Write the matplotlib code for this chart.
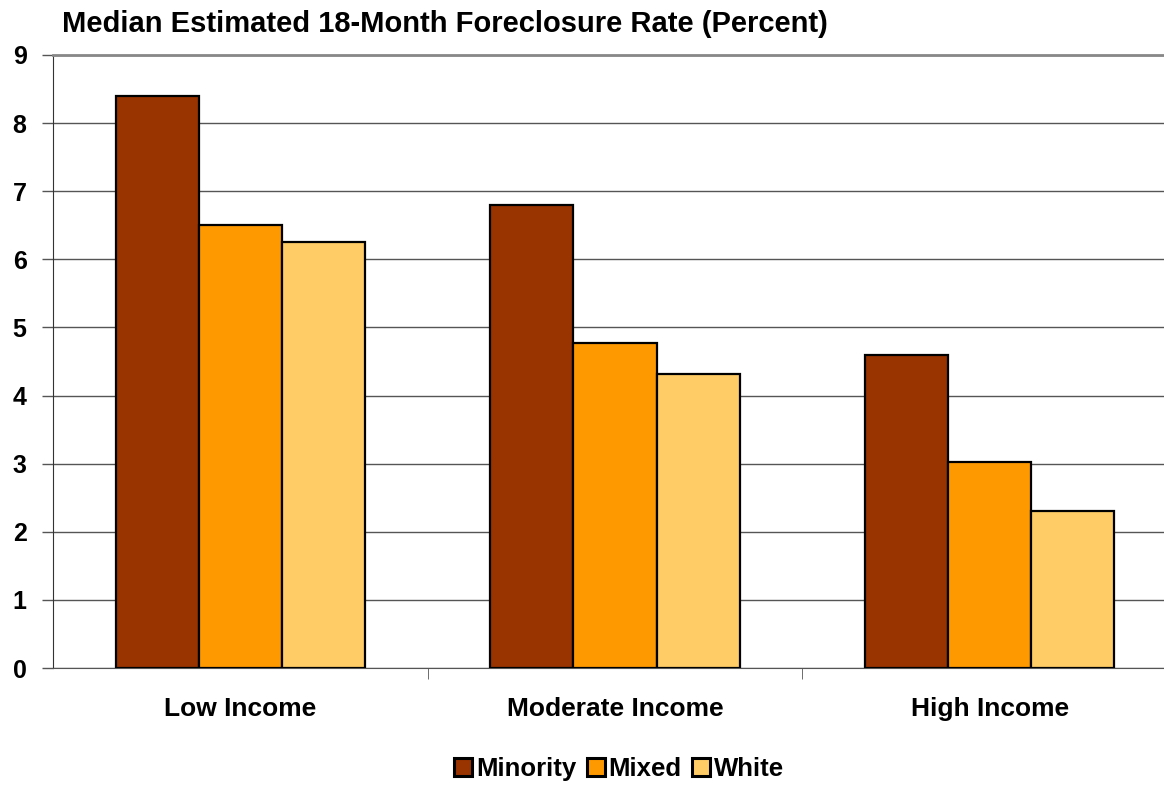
import numpy as np
import matplotlib
matplotlib.use("Agg")
import matplotlib.pyplot as plt

categories = ["Low Income", "Moderate Income", "High Income"]
series_names = ["Minority", "Mixed", "White"]
minority = [8.40, 6.80, 4.60]
mixed = [6.50, 4.77, 3.03]
white = [6.26, 4.32, 2.31]
colors = ["#993300", "#FF9900", "#FFCC66"]
yticks = list(range(0, 10))

plt.rcParams["font.family"] = ["Liberation Sans", "DejaVu Sans"]
plt.rcParams["font.weight"] = "bold"

fig = plt.figure(figsize=(11.64, 7.85), dpi=100)
ax = fig.add_axes([0.0455, 0.149, 0.9656, 0.781])

x = np.arange(len(categories))
w = 0.222
for i, (vals, name) in enumerate(zip([minority, mixed, white], series_names)):
    ax.bar(x + (i - 1) * w, vals, width=w, color=colors[i], edgecolor="black",
           linewidth=1.6, label=name, zorder=3)

ax.set_xlim(-0.5, len(categories) - 0.5)
ax.set_ylim(0, 9)
ax.set_yticks(yticks)
ax.set_yticklabels([str(t) for t in yticks], fontsize=18, fontweight="bold")
ax.yaxis.grid(True, color="#555555", linewidth=1.0, zorder=0)

ax.set_xticks(x)
ax.set_xticklabels(categories, fontsize=19, fontweight="bold")
ax.tick_params(axis="x", length=0, pad=21)
ax.set_xticks(np.arange(0.5, len(categories) - 0.5), minor=True)
ax.tick_params(axis="x", which="minor", length=8, color="#555555")
ax.tick_params(axis="y", length=8, color="#555555", width=1, pad=11)

ax.spines["right"].set_visible(False)
ax.spines["top"].set_color("#888888")
ax.spines["top"].set_linewidth(2)
ax.spines["left"].set_color("#333333")
ax.spines["bottom"].set_color("#555555")

fig.text(0.053, 0.970, "Median Estimated 18-Month Foreclosure Rate (Percent)",
         fontsize=21, fontweight="bold", va="center", ha="left")

leg = fig.legend(loc="center", bbox_to_anchor=(0.532, 0.020), ncol=3, frameon=False,
                 fontsize=18.5, handlelength=0.7, handleheight=0.7, handletextpad=0.15,
                 columnspacing=0.4, borderaxespad=0)
for h in leg.legend_handles:
    h.set_linewidth(2.2)

fig.savefig("out.png", dpi=100)
